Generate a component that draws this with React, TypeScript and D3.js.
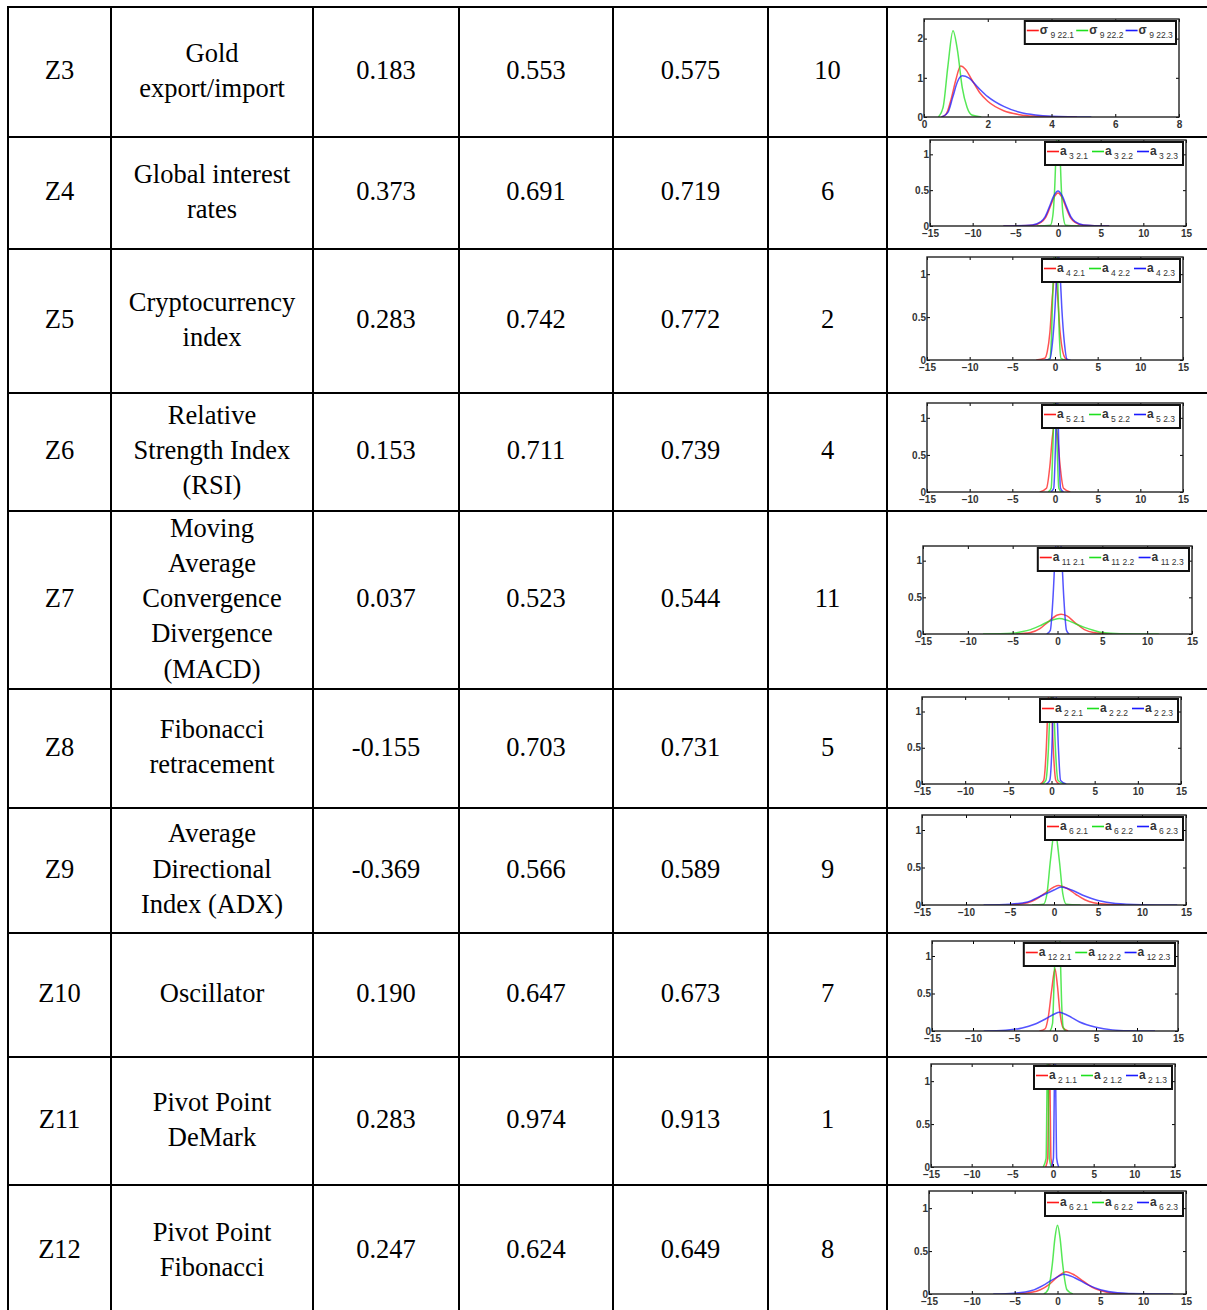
import React, { useEffect, useRef } from 'react';
import * as d3 from 'd3';

// table contents
const factorIds = ['Z3', 'Z4', 'Z5', 'Z6', 'Z7', 'Z8', 'Z9', 'Z10', 'Z11', 'Z12'];
const factorNames = [
  ['Gold', 'export/import'],
  ['Global interest', 'rates'],
  ['Cryptocurrency', 'index'],
  ['Relative', 'Strength Index', '(RSI)'],
  ['Moving', 'Average', 'Convergence', 'Divergence', '(MACD)'],
  ['Fibonacci', 'retracement'],
  ['Average', 'Directional', 'Index (ADX)'],
  ['Oscillator'],
  ['Pivot Point', 'DeMark'],
  ['Pivot Point', 'Fibonacci'],
];
const colA = ['0.183', '0.373', '0.283', '0.153', '0.037', '-0.155', '-0.369', '0.190', '0.283', '0.247'];
const colB = ['0.553', '0.691', '0.742', '0.711', '0.523', '0.703', '0.566', '0.647', '0.974', '0.624'];
const colC = ['0.575', '0.719', '0.772', '0.739', '0.544', '0.731', '0.589', '0.673', '0.913', '0.649'];
const ranks = ['10', '6', '2', '4', '11', '5', '9', '7', '1', '8'];

// small density plots
const legendSymbols = ['σ', 'a', 'a', 'a', 'a', 'a', 'a', 'a', 'a', 'a'];
const legendSubs = [
  ['9 22.1', '9 22.2', '9 22.3'],
  ['3 2.1', '3 2.2', '3 2.3'],
  ['4 2.1', '4 2.2', '4 2.3'],
  ['5 2.1', '5 2.2', '5 2.3'],
  ['11 2.1', '11 2.2', '11 2.3'],
  ['2 2.1', '2 2.2', '2 2.3'],
  ['6 2.1', '6 2.2', '6 2.3'],
  ['12 2.1', '12 2.2', '12 2.3'],
  ['2 1.1', '2 1.2', '2 1.3'],
  ['6 2.1', '6 2.2', '6 2.3'],
];
const wideX = [-15, -10, -5, 0, 5, 10, 15];
const xTickSets = [[0, 2, 4, 6, 8], wideX, wideX, wideX, wideX, wideX, wideX, wideX, wideX, wideX];
const yTickSets = [[0, 1, 2], [0, 0.5, 1], [0, 0.5, 1], [0, 0.5, 1], [0, 0.5, 1], [0, 0.5, 1], [0, 0.5, 1], [0, 0.5, 1], [0, 0.5, 1], [0, 0.5, 1]];
const yMaxes = [2.5, 1.2, 1.2, 1.2, 1.2, 1.2, 1.2, 1.2, 1.2, 1.2];

const redCurves = [
  [[0.55, 0], [0.7, 0.08], [0.85, 0.45], [1.0, 0.95], [1.15, 1.3], [1.3, 1.22], [1.5, 0.95], [1.75, 0.62], [2.0, 0.4], [2.5, 0.16], [3.0, 0.06], [3.5, 0.02], [4.0, 0.005], [4.8, 0]],
  [[-6.4, 0], [-3, 0.01], [-2, 0.05], [-1.5, 0.11], [-1, 0.24], [-0.5, 0.39], [0, 0.46], [0.5, 0.39], [1, 0.24], [1.5, 0.11], [2, 0.05], [3, 0.01], [6, 0]],
  [[-2.2, 0], [-1.2, 0.02], [-0.9, 0.1], [-0.6, 0.32], [-0.3, 0.75], [0, 1.0], [0.3, 0.75], [0.6, 0.32], [0.9, 0.1], [1.2, 0.02], [1.5, 0]],
  [[-1.8, 0], [-1, 0.05], [-0.6, 0.35], [-0.3, 0.75], [0, 0.95], [0.3, 0.75], [0.6, 0.35], [1, 0.05], [1.8, 0]],
  [[-4.6, 0], [-3, 0.02], [-2, 0.07], [-1, 0.17], [0, 0.26], [0.4, 0.27], [1, 0.25], [2, 0.15], [3, 0.06], [4, 0.02], [6.1, 0]],
  [[-1.3, 0], [-0.9, 0.05], [-0.6, 0.5], [-0.4, 1.1], [-0.2, 1.4], [0, 1.1], [0.2, 0.5], [0.5, 0.05], [0.9, 0]],
  [[-5, 0], [-3, 0.03], [-2, 0.08], [-1, 0.16], [0, 0.24], [0.5, 0.26], [1.5, 0.22], [2.5, 0.14], [3.5, 0.07], [4.5, 0.03], [6, 0.01], [8, 0]],
  [[-1.9, 0], [-1.2, 0.03], [-0.8, 0.2], [-0.4, 0.55], [0, 0.83], [0.3, 0.6], [0.6, 0.25], [1.0, 0.04], [1.6, 0]],
  [[-0.9, 0], [-0.65, 0.1], [-0.55, 0.8], [-0.45, 1.6], [-0.35, 0.8], [-0.25, 0.1], [0, 0]],
  [[-5, 0], [-3, 0.02], [-2, 0.05], [-1, 0.11], [0, 0.2], [1, 0.26], [2, 0.22], [3, 0.15], [4, 0.08], [5, 0.04], [6.5, 0.01], [9, 0]],
];
const greenCurves = [
  [[0.45, 0], [0.6, 0.25], [0.75, 1.3], [0.91, 2.2], [1.05, 1.7], [1.2, 0.75], [1.35, 0.25], [1.5, 0.05], [1.8, 0]],
  [[-2.5, 0], [-0.9, 0.01], [-0.6, 0.15], [-0.4, 0.5], [-0.2, 1.1], [0, 1.4], [0.2, 1.1], [0.4, 0.5], [0.6, 0.15], [0.9, 0.01], [2.5, 0]],
  [[-1, 0], [-0.6, 0.02], [-0.4, 0.3], [-0.2, 1.0], [0.05, 1.5], [0.3, 1.0], [0.5, 0.3], [0.7, 0.02], [1.2, 0]],
  [[-0.8, 0], [-0.45, 0.05], [-0.25, 0.6], [0, 1.5], [0.25, 0.6], [0.45, 0.05], [0.8, 0]],
  [[-8.3, 0], [-5, 0.01], [-4, 0.03], [-3, 0.06], [-2, 0.11], [-1, 0.17], [0.2, 0.21], [1, 0.19], [2, 0.14], [3, 0.09], [4, 0.05], [5, 0.02], [7, 0.005], [11.3, 0]],
  [[-1.1, 0], [-0.65, 0.05], [-0.35, 0.5], [-0.15, 1.1], [0.05, 1.4], [0.25, 1.1], [0.45, 0.5], [0.75, 0.05], [1.5, 0]],
  [[-2.5, 0], [-1.2, 0.01], [-0.8, 0.15], [-0.4, 0.6], [0.1, 1.0], [0.6, 0.6], [1.0, 0.15], [1.4, 0.01], [3, 0]],
  [[-0.6, 0], [-0.3, 0.1], [-0.1, 0.7], [0.15, 1.4], [0.4, 1.6], [0.6, 1.2], [0.8, 0.4], [1.0, 0.05], [1.3, 0]],
  [[-1.2, 0], [-0.85, 0.1], [-0.75, 0.8], [-0.65, 1.6], [-0.55, 0.8], [-0.45, 0.1], [-0.2, 0]],
  [[-1.6, 0], [-1.1, 0.05], [-0.6, 0.35], [-0.3, 0.65], [0, 0.8], [0.3, 0.65], [0.6, 0.35], [1.1, 0.05], [1.8, 0]],
];
const blueCurves = [
  [[0.55, 0], [0.75, 0.12], [0.9, 0.5], [1.05, 0.9], [1.2, 1.05], [1.4, 1.0], [1.7, 0.75], [2.0, 0.52], [2.5, 0.27], [3.0, 0.12], [3.5, 0.05], [4.0, 0.02], [5.25, 0]],
  [[-6.4, 0], [-3, 0.015], [-2, 0.06], [-1.5, 0.13], [-1, 0.27], [-0.5, 0.42], [0, 0.49], [0.5, 0.42], [1, 0.27], [1.5, 0.13], [2, 0.06], [3, 0.015], [6, 0]],
  [[-1.2, 0], [-0.6, 0.01], [-0.3, 0.2], [0, 0.6], [0.2, 1.0], [0.4, 1.25], [0.6, 1.0], [0.8, 0.6], [1.1, 0.2], [1.4, 0.01], [1.8, 0]],
  [[-0.5, 0], [-0.15, 0.05], [0.05, 0.6], [0.25, 1.5], [0.45, 0.6], [0.65, 0.05], [1.0, 0]],
  [[-1.2, 0], [-0.8, 0.05], [-0.5, 0.5], [-0.25, 1.1], [0.1, 1.5], [0.45, 1.1], [0.7, 0.5], [1.0, 0.05], [1.3, 0]],
  [[-0.6, 0], [-0.2, 0.05], [0.05, 0.5], [0.2, 1.1], [0.4, 1.4], [0.6, 1.1], [0.8, 0.5], [1.05, 0.05], [1.7, 0]],
  [[-8, 0], [-5, 0.01], [-3, 0.04], [-1.5, 0.12], [0, 0.2], [0.8, 0.24], [2, 0.2], [3.5, 0.12], [5, 0.06], [7, 0.02], [10, 0.005], [14, 0]],
  [[-8.7, 0], [-6, 0.01], [-4, 0.04], [-2.5, 0.09], [-1, 0.17], [0, 0.23], [0.5, 0.25], [1.5, 0.21], [3, 0.12], [5, 0.05], [7, 0.015], [9, 0.004], [12.2, 0]],
  [[-0.2, 0], [0.05, 0.1], [0.15, 0.8], [0.25, 1.6], [0.35, 0.8], [0.45, 0.1], [0.7, 0]],
  [[-7.5, 0], [-5, 0.01], [-3, 0.04], [-1.5, 0.11], [0, 0.2], [0.7, 0.23], [2, 0.19], [3.5, 0.11], [5, 0.05], [7, 0.015], [10, 0.003], [13.5, 0]],
];

// layout
const colEdges = [8, 111, 313, 459, 613, 768, 887, 1215];
const rowEdges = [7, 137, 249, 393, 511, 689, 808, 933, 1057, 1185, 1317];
const plotBoxes = [
  [924, 1179, 19, 117],
  [930, 1186, 140, 226],
  [927, 1183, 257, 360],
  [927, 1183, 403, 492],
  [923, 1192, 546, 634],
  [922, 1181, 697, 784],
  [922, 1186, 815, 905],
  [932, 1178, 941, 1031],
  [931, 1175, 1064, 1167],
  [929, 1186, 1191, 1294],
];
const seriesColors = ['#ff1a1a', '#1ee01e', '#1a1aff'];

function App() {
  const ref = useRef(null);

  useEffect(() => {
    const svg = d3.select(ref.current);
    svg.selectAll('*').remove();

    // table grid
    const grid = svg.append('g').attr('stroke', '#000').attr('stroke-width', 2);
    rowEdges.forEach(y => {
      grid.append('line').attr('x1', colEdges[0] - 1).attr('x2', 1215).attr('y1', y).attr('y2', y);
    });
    colEdges.forEach(x => {
      grid.append('line').attr('x1', x).attr('x2', x).attr('y1', rowEdges[0]).attr('y2', 1317);
    });

    // text cells
    const textG = svg.append('g')
      .style('font-family', '"Liberation Serif", "Times New Roman", serif')
      .style('font-size', '26.5px')
      .attr('fill', '#000')
      .attr('text-anchor', 'middle');
    const lineH = 35.2;
    const cellText = (col, row, lines) => {
      const cx = (colEdges[col] + colEdges[col + 1]) / 2;
      const cy = (rowEdges[row] + rowEdges[row + 1]) / 2;
      lines.forEach((t, k) => {
        textG.append('text')
          .attr('x', cx)
          .attr('y', cy + (k - (lines.length - 1) / 2) * lineH)
          .attr('dy', '0.27em')
          .text(t);
      });
    };
    factorIds.forEach((id, i) => {
      cellText(0, i, [id]);
      cellText(1, i, factorNames[i]);
      cellText(2, i, [colA[i]]);
      cellText(3, i, [colB[i]]);
      cellText(4, i, [colC[i]]);
      cellText(5, i, [ranks[i]]);
    });

    // density thumbnails
    plotBoxes.forEach(([x0, x1, y0, y1], i) => {
      const xt = xTickSets[i];
      const x = d3.scaleLinear().domain([xt[0], xt[xt.length - 1]]).range([x0, x1]);
      const y = d3.scaleLinear().domain([0, yMaxes[i]]).range([y1, y0]);
      const g = svg.append('g');

      g.append('clipPath').attr('id', 'clip' + i)
        .append('rect').attr('x', x0).attr('y', y0).attr('width', x1 - x0).attr('height', y1 - y0);

      const line = d3.line().x(d => x(d[0])).y(d => y(d[1])).curve(d3.curveMonotoneX);
      [redCurves[i], greenCurves[i], blueCurves[i]].forEach((c, k) => {
        g.append('path')
          .attr('clip-path', `url(#clip${i})`)
          .attr('d', line(c))
          .attr('fill', 'none')
          .attr('stroke', seriesColors[k])
          .attr('stroke-width', 1.5)
          .attr('stroke-opacity', 0.75);
      });

      // axes (ticks pointing inwards on all sides)
      const tickFont = (sel) => sel.selectAll('text')
        .style('font-family', '"Liberation Sans", Arial, sans-serif')
        .style('font-size', '10px')
        .style('font-weight', 'bold')
        .attr('fill', '#333');
      const bottom = g.append('g').attr('transform', `translate(0,${y1})`)
        .call(d3.axisBottom(x).tickValues(xt).tickSizeInner(-3).tickSizeOuter(0).tickPadding(4).tickFormat(d3.format('')));
      bottom.select('.domain').remove();
      bottom.call(tickFont);
      const top = g.append('g').attr('transform', `translate(0,${y0})`)
        .call(d3.axisTop(x).tickValues(xt).tickSizeInner(-3).tickSizeOuter(0).tickFormat(() => ''));
      top.select('.domain').remove();
      const left = g.append('g').attr('transform', `translate(${x0},0)`)
        .call(d3.axisLeft(y).tickValues(yTickSets[i]).tickSizeInner(-3).tickSizeOuter(0).tickPadding(1).tickFormat(d3.format('')));
      left.select('.domain').remove();
      left.call(tickFont);
      const right = g.append('g').attr('transform', `translate(${x1},0)`)
        .call(d3.axisRight(y).tickValues(yTickSets[i]).tickSizeInner(-3).tickSizeOuter(0).tickFormat(() => ''));
      right.select('.domain').remove();

      g.append('rect')
        .attr('x', x0).attr('y', y0).attr('width', x1 - x0).attr('height', y1 - y0)
        .attr('fill', 'none').attr('stroke', '#222').attr('stroke-width', 1.4);

      // legend box
      const subs = legendSubs[i];
      const itemW = subs.map(s => 23 + s.length * 4.4);
      const legW = d3.sum(itemW) + 3;
      const legH = 23;
      const lx = x1 - 3 - legW;
      const ly = y0 + 2;
      const leg = g.append('g');
      leg.append('rect').attr('x', lx).attr('y', ly).attr('width', legW).attr('height', legH)
        .attr('fill', '#fff').attr('stroke', '#111').attr('stroke-width', 2);
      let cx = lx + 2;
      subs.forEach((s, k) => {
        const my = ly + legH / 2 - 2;
        leg.append('line').attr('x1', cx).attr('x2', cx + 12).attr('y1', my).attr('y2', my)
          .attr('stroke', seriesColors[k]).attr('stroke-width', 1.6);
        const t = leg.append('text')
          .attr('x', cx + 13).attr('y', my + 3)
          .style('font-family', '"Liberation Sans", Arial, sans-serif')
          .style('font-size', '12px')
          .style('font-weight', 'bold')
          .attr('fill', '#333');
        t.append('tspan').text(legendSymbols[i]);
        t.append('tspan').attr('dy', 4).style('font-size', '8.5px').style('font-weight', 'normal').text(' ' + s);
        cx += itemW[k];
      });
    });
  }, []);

  return (
    <svg ref={ref} width={1207} height={1310}
      style={{ position: 'absolute', left: 0, top: 0, background: '#fff' }} />
  );
}

export default App;
